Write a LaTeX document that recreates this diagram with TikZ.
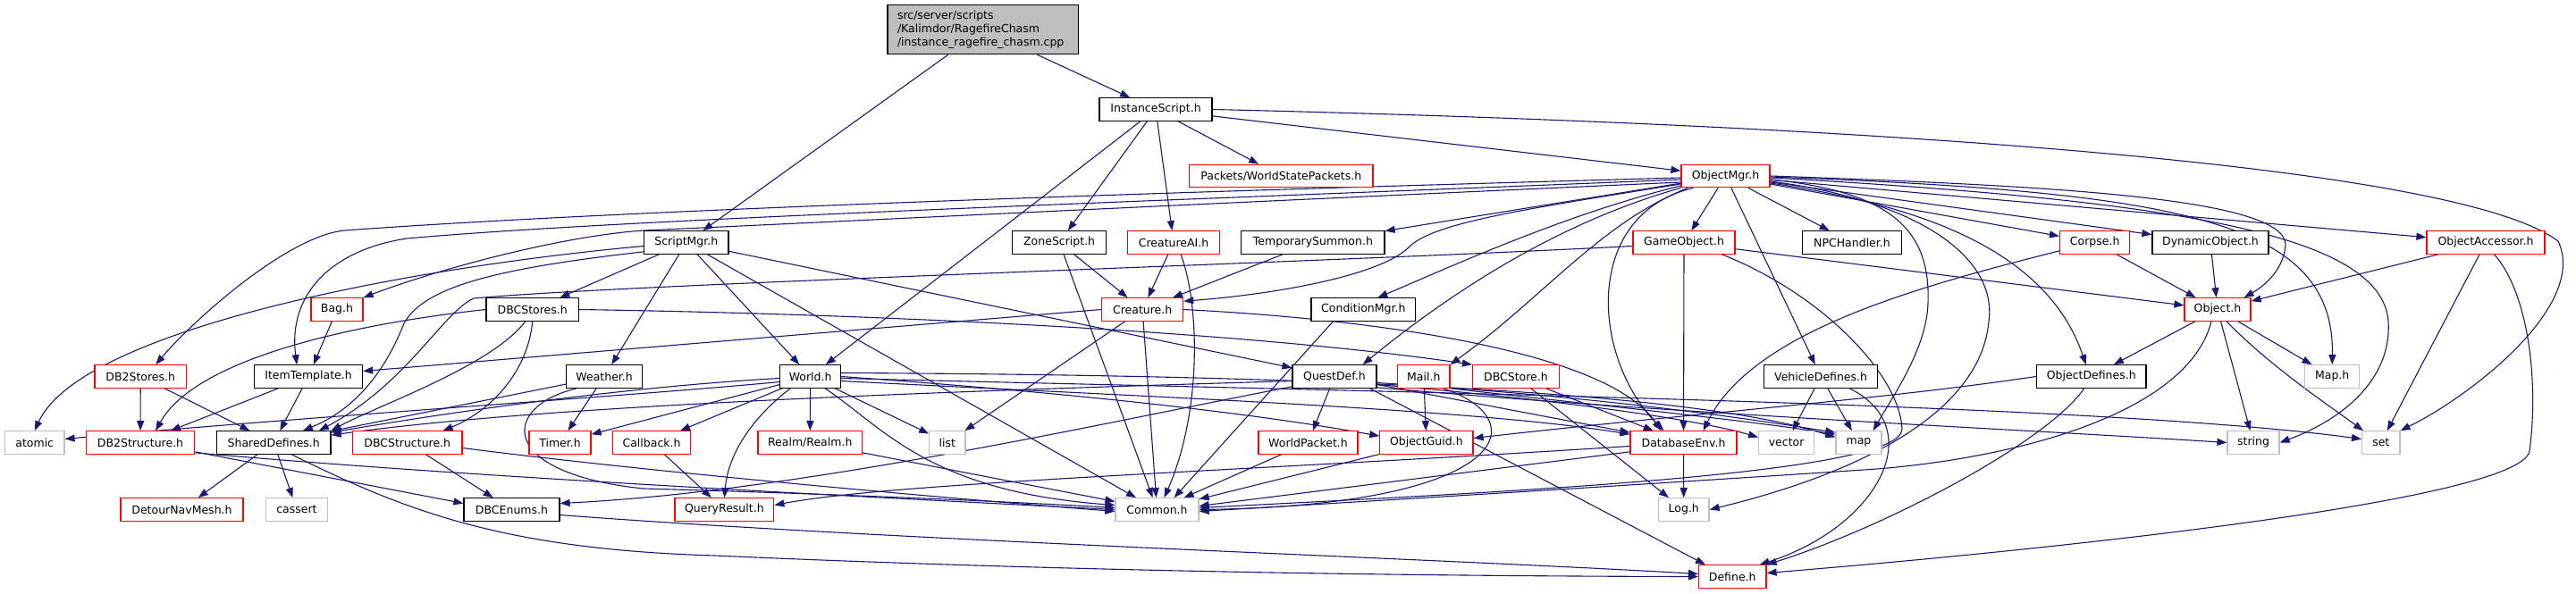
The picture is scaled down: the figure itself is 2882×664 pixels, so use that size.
\documentclass[tikz,border=0pt]{standalone}
\usepackage{fontspec}
\setmainfont{DejaVu Sans}
\usetikzlibrary{arrows.meta,calc}
\definecolor{edgec}{HTML}{191970}
\definecolor{greyb}{HTML}{BFBFBF}
\definecolor{redb}{HTML}{FF0000}
\newcommand{\dxfont}{\fontsize{12.5}{14.7}\selectfont}
\pgfdeclarelayer{edgelayer}
\pgfsetlayers{edgelayer,main}
\tikzset{
  nbox/.style={draw, line width=1.2pt, fill=white, inner sep=0pt, minimum height=25.5pt, font=\dxfont, anchor=center},
  bnode/.style={nbox, draw=black},
  rnode/.style={nbox, draw=redb},
  gnode/.style={nbox, draw=greyb},
  dep/.style={draw=edgec, line width=1.1pt, -{Triangle[length=11pt,width=8pt]}},
}
\begin{document}
\begin{tikzpicture}[x=1pt,y=-1pt]
\useasboundingbox (0,0) rectangle (2882,664);
% ---------- nodes ----------
\node[nbox, draw=black, fill=greyb, minimum width=213.5pt, minimum height=55pt, align=left, text width=191.5pt] (top) at (1099.75,33.2) {src/server/scripts\\/Kalimdor/RagefireChasm\\/instance\_ragefire\_chasm.cpp};
\node[bnode, minimum width=126pt] (is) at (1293,122.5) {InstanceScript.h};
\node[rnode, minimum width=205.5pt] (pk) at (1433.25,197) {Packets/WorldStatePackets.h};
\node[rnode, minimum width=99pt] (om) at (1930.5,197) {ObjectMgr.h};
\node[bnode, minimum width=94.3pt] (sm) at (767.85,271.5) {ScriptMgr.h};
\node[bnode, minimum width=105.1pt] (zs) at (1185.15,271.5) {ZoneScript.h};
\node[rnode, minimum width=102.9pt] (cai) at (1313.05,271.5) {CreatureAI.h};
\node[bnode, minimum width=160.2pt] (ts) at (1468.9,271.5) {TemporarySummon.h};
\node[rnode, minimum width=114pt] (go) at (1884,271.5) {GameObject.h};
\node[bnode, minimum width=110.7pt] (npc) at (2072,271.5) {NPCHandler.h};
\node[rnode, minimum width=78.3pt] (corpse) at (2343.65,271.5) {Corpse.h};
\node[bnode, minimum width=130pt] (dyn) at (2473,271.5) {DynamicObject.h};
\node[rnode, minimum width=132pt] (oa) at (2781,271.5) {ObjectAccessor.h};
\node[rnode, minimum width=58pt] (bag) at (377,346.5) {Bag.h};
\node[bnode, minimum width=103.5pt] (dbcs) at (595.75,346.5) {DBCStores.h};
\node[rnode, minimum width=90.9pt] (cre) at (1278.15,346.5) {Creature.h};
\node[bnode, minimum width=116.7pt] (cond) at (1525.35,346.5) {ConditionMgr.h};
\node[rnode, minimum width=74pt] (obj) at (2481,346.5) {Object.h};
\node[rnode, minimum width=102.5pt] (db2s) at (157.25,421.5) {DB2Stores.h};
\node[bnode, minimum width=120.8pt] (it) at (345.1,421.5) {ItemTemplate.h};
\node[bnode, minimum width=84.9pt] (wea) at (676.15,421.5) {Weather.h};
\node[bnode, minimum width=67.9pt] (world) at (906.65,421.5) {World.h};
\node[bnode, minimum width=94pt] (qd) at (1493,421.5) {QuestDef.h};
\node[rnode, minimum width=58.5pt] (mail) at (1592.75,421.5) {Mail.h};
\node[rnode, minimum width=96.9pt] (dbcst) at (1695.95,421.5) {DBCStore.h};
\node[bnode, minimum width=127.2pt] (veh) at (2037.1,421.5) {VehicleDefines.h};
\node[bnode, minimum width=122.5pt] (od) at (2339.75,421.5) {ObjectDefines.h};
\node[gnode, minimum width=60.8pt] (maph) at (2609.2,421.5) {Map.h};
\node[gnode, minimum width=66.5pt] (atomic) at (38.75,495.5) {atomic};
\node[rnode, minimum width=121.3pt] (db2st) at (157.05,495.5) {DB2Structure.h};
\node[bnode, minimum width=127.5pt] (sd) at (306.25,495.5) {SharedDefines.h};
\node[rnode, minimum width=122.5pt] (dbcstr) at (455.75,495.5) {DBCStructure.h};
\node[rnode, minimum width=69pt] (timer) at (626.5,495.5) {Timer.h};
\node[rnode, minimum width=86.9pt] (cb) at (729.05,495.5) {Callback.h};
\node[rnode, minimum width=116.5pt] (realm) at (906.25,495.5) {Realm/Realm.h};
\node[gnode, minimum width=40.2pt] (list) at (1059.9,495.5) {list};
\node[rnode, minimum width=111pt] (wp) at (1463.5,495.5) {WorldPacket.h};
\node[rnode, minimum width=104.3pt] (og) at (1595.85,495.5) {ObjectGuid.h};
\node[rnode, minimum width=119pt] (dbe) at (1883.5,495.5) {DatabaseEnv.h};
\node[gnode, minimum width=62pt] (vec) at (1998.6,495.5) {vector};
\node[gnode, minimum width=51pt] (map) at (2079.5,495.5) {map};
\node[gnode, minimum width=58pt] (str) at (2521,495.5) {string};
\node[gnode, minimum width=42.4pt] (set) at (2663.8,495.5) {set};
\node[rnode, minimum width=137pt] (dnm) at (203.5,570.5) {DetourNavMesh.h};
\node[gnode, minimum width=68.8pt] (cassert) at (332,570.5) {cassert};
\node[bnode, minimum width=107pt] (dbce) at (572.5,570.5) {DBCEnums.h};
\node[rnode, minimum width=110.8pt] (qr) at (810.4,570.5) {QueryResult.h};
\node[gnode, minimum width=93pt] (common) at (1294.5,570.5) {Common.h};
\node[gnode, minimum width=56.5pt] (log) at (1883.75,570.5) {Log.h};
\node[rnode, minimum width=75.5pt] (def) at (1938.25,645.5) {Define.h};
% ---------- edges ----------
\begin{pgfonlayer}{edgelayer}
\draw[dep] (top) -- (sm);
\draw[dep] (top) -- (is);
% InstanceScript
\draw[dep] (is) -- (zs);
\draw[dep] (is) -- (world);
\draw[dep] (is) -- (cai);
\draw[dep] (is) -- (pk);
\draw[dep] (is) -- (om);
\draw[dep] (is.east) .. controls (2100,140) and (2750,185) .. (2862,270) .. controls (2895,340) and (2770,440) .. (set.north east);
% ScriptMgr
\draw[dep] ($(sm.west)+(0,4)$) .. controls (450,300) and (90,370) .. (atomic.north);
\draw[dep] ($(sm.south west)+(0,-3)$) .. controls (560,300) and (475,320) .. (452,362) .. controls (435,405) and (405,455) .. ($(sd.north west)+(97,0)$);
\draw[dep] (sm) -- (dbcs);
\draw[dep] (sm) -- (wea);
\draw[dep] (sm) -- (world);
\draw[dep] (sm) -- (common);
\draw[dep] (sm) -- (qd);
% ObjectMgr
\draw[dep] ($(om.west)+(0,2)$) .. controls (1300,215) and (700,235) .. (385,258) .. controls (320,265) and (215,360) .. ($(db2s.north)+(17,0)$);
\draw[dep] ($(om.west)+(0,4)$) .. controls (1300,225) and (700,245) .. (455,267) .. controls (370,280) and (322,330) .. ($(it.north west)+(48,0)$);
\draw[dep] ($(om.west)+(0,7)$) .. controls (1300,230) and (900,250) .. (720,258) .. controls (620,265) and (480,305) .. (bag.north east);
\draw[dep] (om) -- (ts);
\draw[dep] ($(om.west)+(0,9)$) .. controls (1700,235) and (1600,250) .. (1575,278) .. controls (1540,310) and (1420,330) .. ($(cre.north east)+(0,4)$);
\draw[dep] ($(om.west)+(0,11)$) .. controls (1750,240) and (1620,300) .. ($(cond.north west)+(75,0)$);
\draw[dep] (om.south west) .. controls (1740,250) and (1620,330) .. ($(qd.north east)+(-16,0)$);
\draw[dep] ($(om.south west)+(8,0)$) .. controls (1790,250) and (1730,330) .. (mail.north east);
\draw[dep] ($(om.south west)+(14,0)$) .. controls (1770,240) and (1780,400) .. ($(dbe.north west)+(38,0)$);
\draw[dep] (om) -- (go);
\draw[dep] (om) -- (veh);
\draw[dep] (om) -- (npc);
\draw[dep] (om) -- (corpse);
\draw[dep] (om) -- (dyn);
\draw[dep] (om) -- (oa);
\draw[dep] (om.east) .. controls (2300,208) and (2560,222) .. (2557,275) .. controls (2554,305) and (2530,322) .. ($(obj.north east)+(-8,0)$);
\draw[dep] ($(om.east)+(0,1)$) .. controls (2450,215) and (2612,250) .. (maph.north);
\draw[dep] ($(om.east)+(0,2)$) .. controls (2450,225) and (2665,265) .. (2672,360) .. controls (2676,425) and (2620,470) .. (str.east);
\draw[dep] ($(om.east)+(0,8)$) .. controls (2150,230) and (2290,280) .. ($(od.north)+(-6,0)$);
\draw[dep] ($(om.east)+(0,6)$) .. controls (2150,225) and (2235,290) .. (2225,360) .. controls (2215,470) and (2060,535) .. (log.east);
\draw[dep] ($(om.east)+(0,4)$) .. controls (2120,215) and (2160,260) .. (2157,340) .. controls (2155,390) and (2120,440) .. ($(map.north east)+(-10,0)$);
% GameObject
\draw[dep] ($(go.west)+(0,4)$) .. controls (1450,295) and (700,318) .. (530,334) .. controls (495,350) and (455,430) .. ($(sd.north west)+(115,0)$);
\draw[dep] (go) -- (dbe);
\draw[dep] (go) -- (obj);
\draw[dep] ($(go.south east)+(-15,0)$) .. controls (2040,330) and (2125,420) .. (2128,480) .. controls (2130,530) and (1700,550) .. ($(common.east)+(0,-2)$);
% Corpse, DynamicObject, ObjectAccessor
\draw[dep] (corpse) -- (obj);
\draw[dep] ($(corpse.south west)+(0,-4)$) .. controls (2150,320) and (1960,370) .. ($(dbe.north east)+(-38,0)$);
\draw[dep] (dyn) -- (obj);
\draw[dep] (oa) -- (obj);
\draw[dep] (oa) -- (set);
\draw[dep] ($(oa.south east)+(-57,0)$) .. controls (2830,330) and (2840,430) .. (2830,505) .. controls (2820,560) and (2300,615) .. ($(def.east)+(0,-4)$);
% Object
\draw[dep] (obj) -- (od);
\draw[dep] ($(obj.south)+(-7,0)$) .. controls (2450,455) and (2280,510) .. (2100,525) .. controls (1800,545) and (1500,563) .. ($(common.east)+(0,2)$);
\draw[dep] (obj) -- (str);
\draw[dep] ($(obj.south)+(10,0)$) .. controls (2540,410) and (2600,450) .. ($(set.north west)+(2,0)$);
\draw[dep] (obj) -- (maph);
% VehicleDefines, ObjectDefines
\draw[dep] (veh) -- (vec);
\draw[dep] (veh) -- (map);
\draw[dep] ($(veh.south east)+(-32,0)$) .. controls (2160,480) and (2100,590) .. ($(def.north east)+(-8,0)$);
\draw[dep] (od.west) .. controls (2100,448) and (1900,462) .. ($(og.east)+(0,-5)$);
\draw[dep] ($(od.south)+(-8,0)$) .. controls (2290,495) and (2110,590) .. (def.north east);
% Mail, DBCStore
\draw[dep] (mail) -- (og);
\draw[dep] ($(mail.south east)+(-8,0)$) .. controls (1720,470) and (1690,565) .. (common.east);
\draw[dep] (mail.south east) .. controls (1800,455) and (1950,470) .. ($(map.north west)+(0,4)$);
\draw[dep] (dbcst) -- (dbe);
\draw[dep] (dbcst) -- (log);
% QuestDef
\draw[dep] (qd) -- (wp);
\draw[dep] ($(qd.south east)+(-8,0)$) -- ($(def.north west)+(8,0)$);
\draw[dep] (qd) -- (dbe);
\draw[dep] ($(qd.east)+(0,9)$) .. controls (1750,448) and (1900,470) .. ($(vec.west)+(0,-6)$);
\draw[dep] ($(qd.east)+(0,7)$) .. controls (1800,445) and (1950,468) .. ($(map.north west)+(0,2)$);
\draw[dep] ($(qd.south east)+(0,-1)$) .. controls (1900,465) and (2250,480) .. (str.west);
\draw[dep] ($(qd.west)+(0,5)$) .. controls (1100,437) and (620,452) .. ($(sd.north east)+(0,5)$);
\draw[dep] ($(qd.south west)+(0,-2)$) .. controls (1250,470) and (900,550) .. ($(dbce.east)+(0,-7)$);
% World
\draw[dep] ($(world.west)+(0,2)$) .. controls (700,433) and (500,462) .. ($(sd.north east)+(0,2)$);
\draw[dep] ($(world.west)+(0,6)$) .. controls (700,444) and (320,468) .. ($(atomic.east)+(0,-4)$);
\draw[dep] (world) -- (timer);
\draw[dep] (world) -- (cb);
\draw[dep] (world) -- (realm);
\draw[dep] ($(world.south west)+(12,0)$) .. controls (845,465) and (815,505) .. (qr.north);
\draw[dep] (world) -- (list);
\draw[dep] ($(world.south east)+(-18,0)$) .. controls (990,480) and (1040,550) .. ($(common.west)+(0,-5)$);
\draw[dep] (world.east) .. controls (1200,440) and (1400,462) .. ($(og.north west)+(0,6)$);
\draw[dep] ($(world.east)+(0,-4)$) .. controls (1500,420) and (1900,440) .. ($(map.west)+(0,-6)$);
\draw[dep] ($(world.east)+(0,2)$) .. controls (1600,440) and (2350,452) .. ($(set.west)+(0,-4)$);
\draw[dep] ($(world.east)+(0,5)$) .. controls (1300,445) and (1650,458) .. ($(dbe.north west)+(0,4)$);
% Creature, CreatureAI, ZoneScript, TemporarySummon, ConditionMgr
\draw[dep] (cre) -- (list);
\draw[dep] (cre) -- (common);
\draw[dep] (cre.west) -- ($(it.east)+(0,-6)$);
\draw[dep] (cre.east) .. controls (1550,358) and (1800,395) .. ($(dbe.north west)+(35,0)$);
\draw[dep] (cai) -- (cre);
\draw[dep] ($(cai.south)+(8,0)$) .. controls (1342,340) and (1345,460) .. ($(common.north)+(8,0)$);
\draw[dep] (zs) -- (cre);
\draw[dep] (zs) -- (common);
\draw[dep] (ts) -- (cre);
\draw[dep] ($(cond.south west)+(25,0)$) -- ($(common.north east)+(-28,0)$);
% DB2Stores, ItemTemplate, Bag
\draw[dep] (db2s) -- (db2st);
\draw[dep] (db2s) -- (sd);
\draw[dep] (it) -- (sd);
\draw[dep] (it) -- (db2st);
\draw[dep] (bag) -- (it);
% DBCStores
\draw[dep] (dbcs.west) .. controls (400,362) and (220,400) .. ($(db2st.north)+(17,0)$);
\draw[dep] ($(dbcs.south)+(-8,0)$) .. controls (550,410) and (420,455) .. (sd.north east);
\draw[dep] (dbcs.south) .. controls (590,420) and (545,462) .. ($(dbcstr.north east)+(-22,0)$);
\draw[dep] (dbcs.east) .. controls (1000,352) and (1400,372) .. (dbcst.north west);
% Weather
\draw[dep] (wea) -- (sd);
\draw[dep] (wea) -- (timer);
\draw[dep] ($(wea.south west)+(12,0)$) .. controls (560,455) and (555,530) .. (720,547) .. controls (900,552) and (1100,560) .. ($(common.west)+(0,-2)$);
% structures
\draw[dep] ($(db2st.south east)+(0,-2)$) .. controls (500,532) and (900,553) .. (common.west);
\draw[dep] ($(db2st.south east)+(0,-3)$) -- ($(dbce.west)+(0,-7)$);
\draw[dep] (dbcstr) -- (dbce);
\draw[dep] ($(dbcstr.east)+(0,6)$) .. controls (700,525) and (1000,553) .. ($(common.west)+(0,2)$);
% SharedDefines, DBCEnums
\draw[dep] (sd) -- (dnm);
\draw[dep] (sd) -- (cassert);
\draw[dep] ($(sd.south)+(20,0)$) .. controls (450,570) and (560,615) .. (800,622) .. controls (1200,640) and (1600,645) .. (def.west);
\draw[dep] ($(dbce.east)+(0,6)$) .. controls (1000,605) and (1600,625) .. ($(def.west)+(0,-3)$);
% misc
\draw[dep] (cb) -- (qr);
\draw[dep] (realm) -- (common);
\draw[dep] (wp) -- (common);
\draw[dep] (og) -- (common);
\draw[dep] (dbe) -- (log);
\draw[dep] ($(dbe.south west)+(0,-3)$) -- ($(common.east)+(0,-4)$);
\draw[dep] ($(dbe.west)+(0,4)$) .. controls (1400,527) and (1000,540) .. ($(qr.east)+(0,-5)$);
\end{pgfonlayer}
\end{tikzpicture}
\end{document}
